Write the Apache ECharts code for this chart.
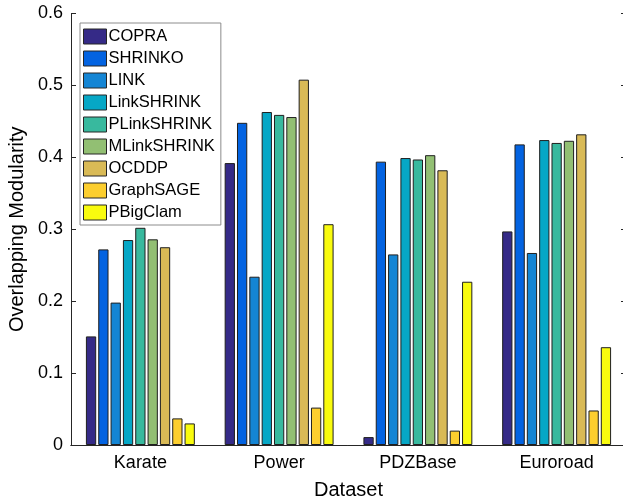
<!DOCTYPE html>
<html>
<head>
<meta charset="utf-8">
<script src="https://cdn.jsdelivr.net/npm/echarts@6/dist/echarts.min.js"></script>
<style>
  html, body { margin: 0; padding: 0; background: #ffffff; }
  #chart { width: 623px; height: 502px; }
</style>
</head>
<body>
<div id="chart"></div>
<script>
// Datasets on the x axis
const datasets = ['Karate', 'Power', 'PDZBase', 'Euroroad'];

// Overlapping modularity per method, one value per dataset
const copra       = [0.151, 0.392, 0.011, 0.297];
const shrinko     = [0.272, 0.448, 0.394, 0.418];
const link        = [0.198, 0.234, 0.265, 0.267];
const linkShrink  = [0.285, 0.463, 0.399, 0.424];
const pLinkShrink = [0.302, 0.459, 0.397, 0.420];
const mLinkShrink = [0.286, 0.456, 0.403, 0.423];
const ocddp       = [0.275, 0.508, 0.382, 0.432];
const graphSage   = [0.037, 0.052, 0.020, 0.048];
const pBigClam    = [0.030, 0.307, 0.227, 0.136];

// Y axis tick values
const yTicks = [0, 0.1, 0.2, 0.3, 0.4, 0.5, 0.6];

const methods = [
  { name: 'COPRA',       data: copra,       color: '#352a87' },
  { name: 'SHRINKO',     data: shrinko,     color: '#0363e1' },
  { name: 'LINK',        data: link,        color: '#1485d4' },
  { name: 'LinkSHRINK',  data: linkShrink,  color: '#06a7c6' },
  { name: 'PLinkSHRINK', data: pLinkShrink, color: '#38b99e' },
  { name: 'MLinkSHRINK', data: mLinkShrink, color: '#92bf73' },
  { name: 'OCDDP',       data: ocddp,       color: '#d9ba56' },
  { name: 'GraphSAGE',   data: graphSage,   color: '#fcce2e' },
  { name: 'PBigClam',    data: pBigClam,    color: '#f9fb0e' }
];

const FONT = '"Liberation Sans", Arial, Helvetica, sans-serif';
const AXIS = '#262626';

const chart = echarts.init(document.getElementById('chart'), null, { renderer: 'canvas' });

const tickStep = yTicks[1] - yTicks[0];

chart.setOption({
  animation: false,
  backgroundColor: '#ffffff',
  textStyle: { fontFamily: FONT },
  grid: {
    left: 71, top: 13.5, bottom: 57, right: -3,
    containLabel: false,
    outerBoundsMode: 'none'
  },
  legend: {
    orient: 'vertical',
    left: 80,
    top: 23,
    padding: [5, 6, 4, 3],
    itemWidth: 23,
    itemHeight: 15,
    itemGap: 5,
    backgroundColor: '#ffffff',
    borderColor: '#8c8c8c',
    borderWidth: 1,
    icon: 'rect',
    itemStyle: { borderColor: '#262626', borderWidth: 1 },
    textStyle: { fontFamily: FONT, fontSize: 16.5, color: '#000000', lineHeight: 16, padding: [0, 0, 0, -3] },
    data: methods.map(m => m.name)
  },
  xAxis: [
    {
      type: 'category',
      data: datasets,
      position: 'bottom',
      name: 'Dataset',
      nameLocation: 'middle',
      nameGap: 35,
      nameTextStyle: { fontFamily: FONT, fontSize: 20, color: '#000000' },
      axisLine: { lineStyle: { color: AXIS, width: 1 } },
      axisTick: { inside: true, length: 5, alignWithLabel: true, lineStyle: { color: AXIS } },
      axisLabel: { fontFamily: FONT, fontSize: 18, color: '#000000', margin: 9 },
      splitLine: { show: false }
    },
    {
      type: 'category',
      data: datasets,
      position: 'top',
      axisLine: { lineStyle: { color: AXIS, width: 1 } },
      axisTick: { inside: true, length: 5, alignWithLabel: true, lineStyle: { color: AXIS } },
      axisLabel: { show: false },
      splitLine: { show: false }
    }
  ],
  yAxis: [
    {
      type: 'value',
      min: yTicks[0],
      max: yTicks[yTicks.length - 1],
      interval: tickStep,
      position: 'left',
      name: 'Overlapping Modularity',
      nameLocation: 'middle',
      nameGap: 43,
      nameTextStyle: { fontFamily: FONT, fontSize: 20, color: '#000000' },
      axisLine: { show: true, lineStyle: { color: AXIS, width: 1 } },
      axisTick: { show: true, inside: true, length: 5, lineStyle: { color: AXIS } },
      axisLabel: {
        fontFamily: FONT, fontSize: 18, color: '#000000', margin: 8,
        formatter: v => String(Math.round(v * 10) / 10)
      },
      splitLine: { show: false }
    },
    {
      type: 'value',
      min: yTicks[0],
      max: yTicks[yTicks.length - 1],
      interval: tickStep,
      position: 'right',
      axisLine: { show: true, lineStyle: { color: AXIS, width: 1 } },
      axisTick: { show: true, inside: true, length: 5, lineStyle: { color: AXIS } },
      axisLabel: { show: false },
      splitLine: { show: false }
    }
  ],
  series: methods.map(m => ({
    name: m.name,
    type: 'bar',
    xAxisIndex: 0,
    yAxisIndex: 0,
    data: m.data,
    barGap: '20%',
    barCategoryGap: '21.5%',
    itemStyle: { color: m.color, borderColor: '#1f1f1f', borderWidth: 1 },
    emphasis: { disabled: true }
  }))
});
</script>
</body>
</html>
